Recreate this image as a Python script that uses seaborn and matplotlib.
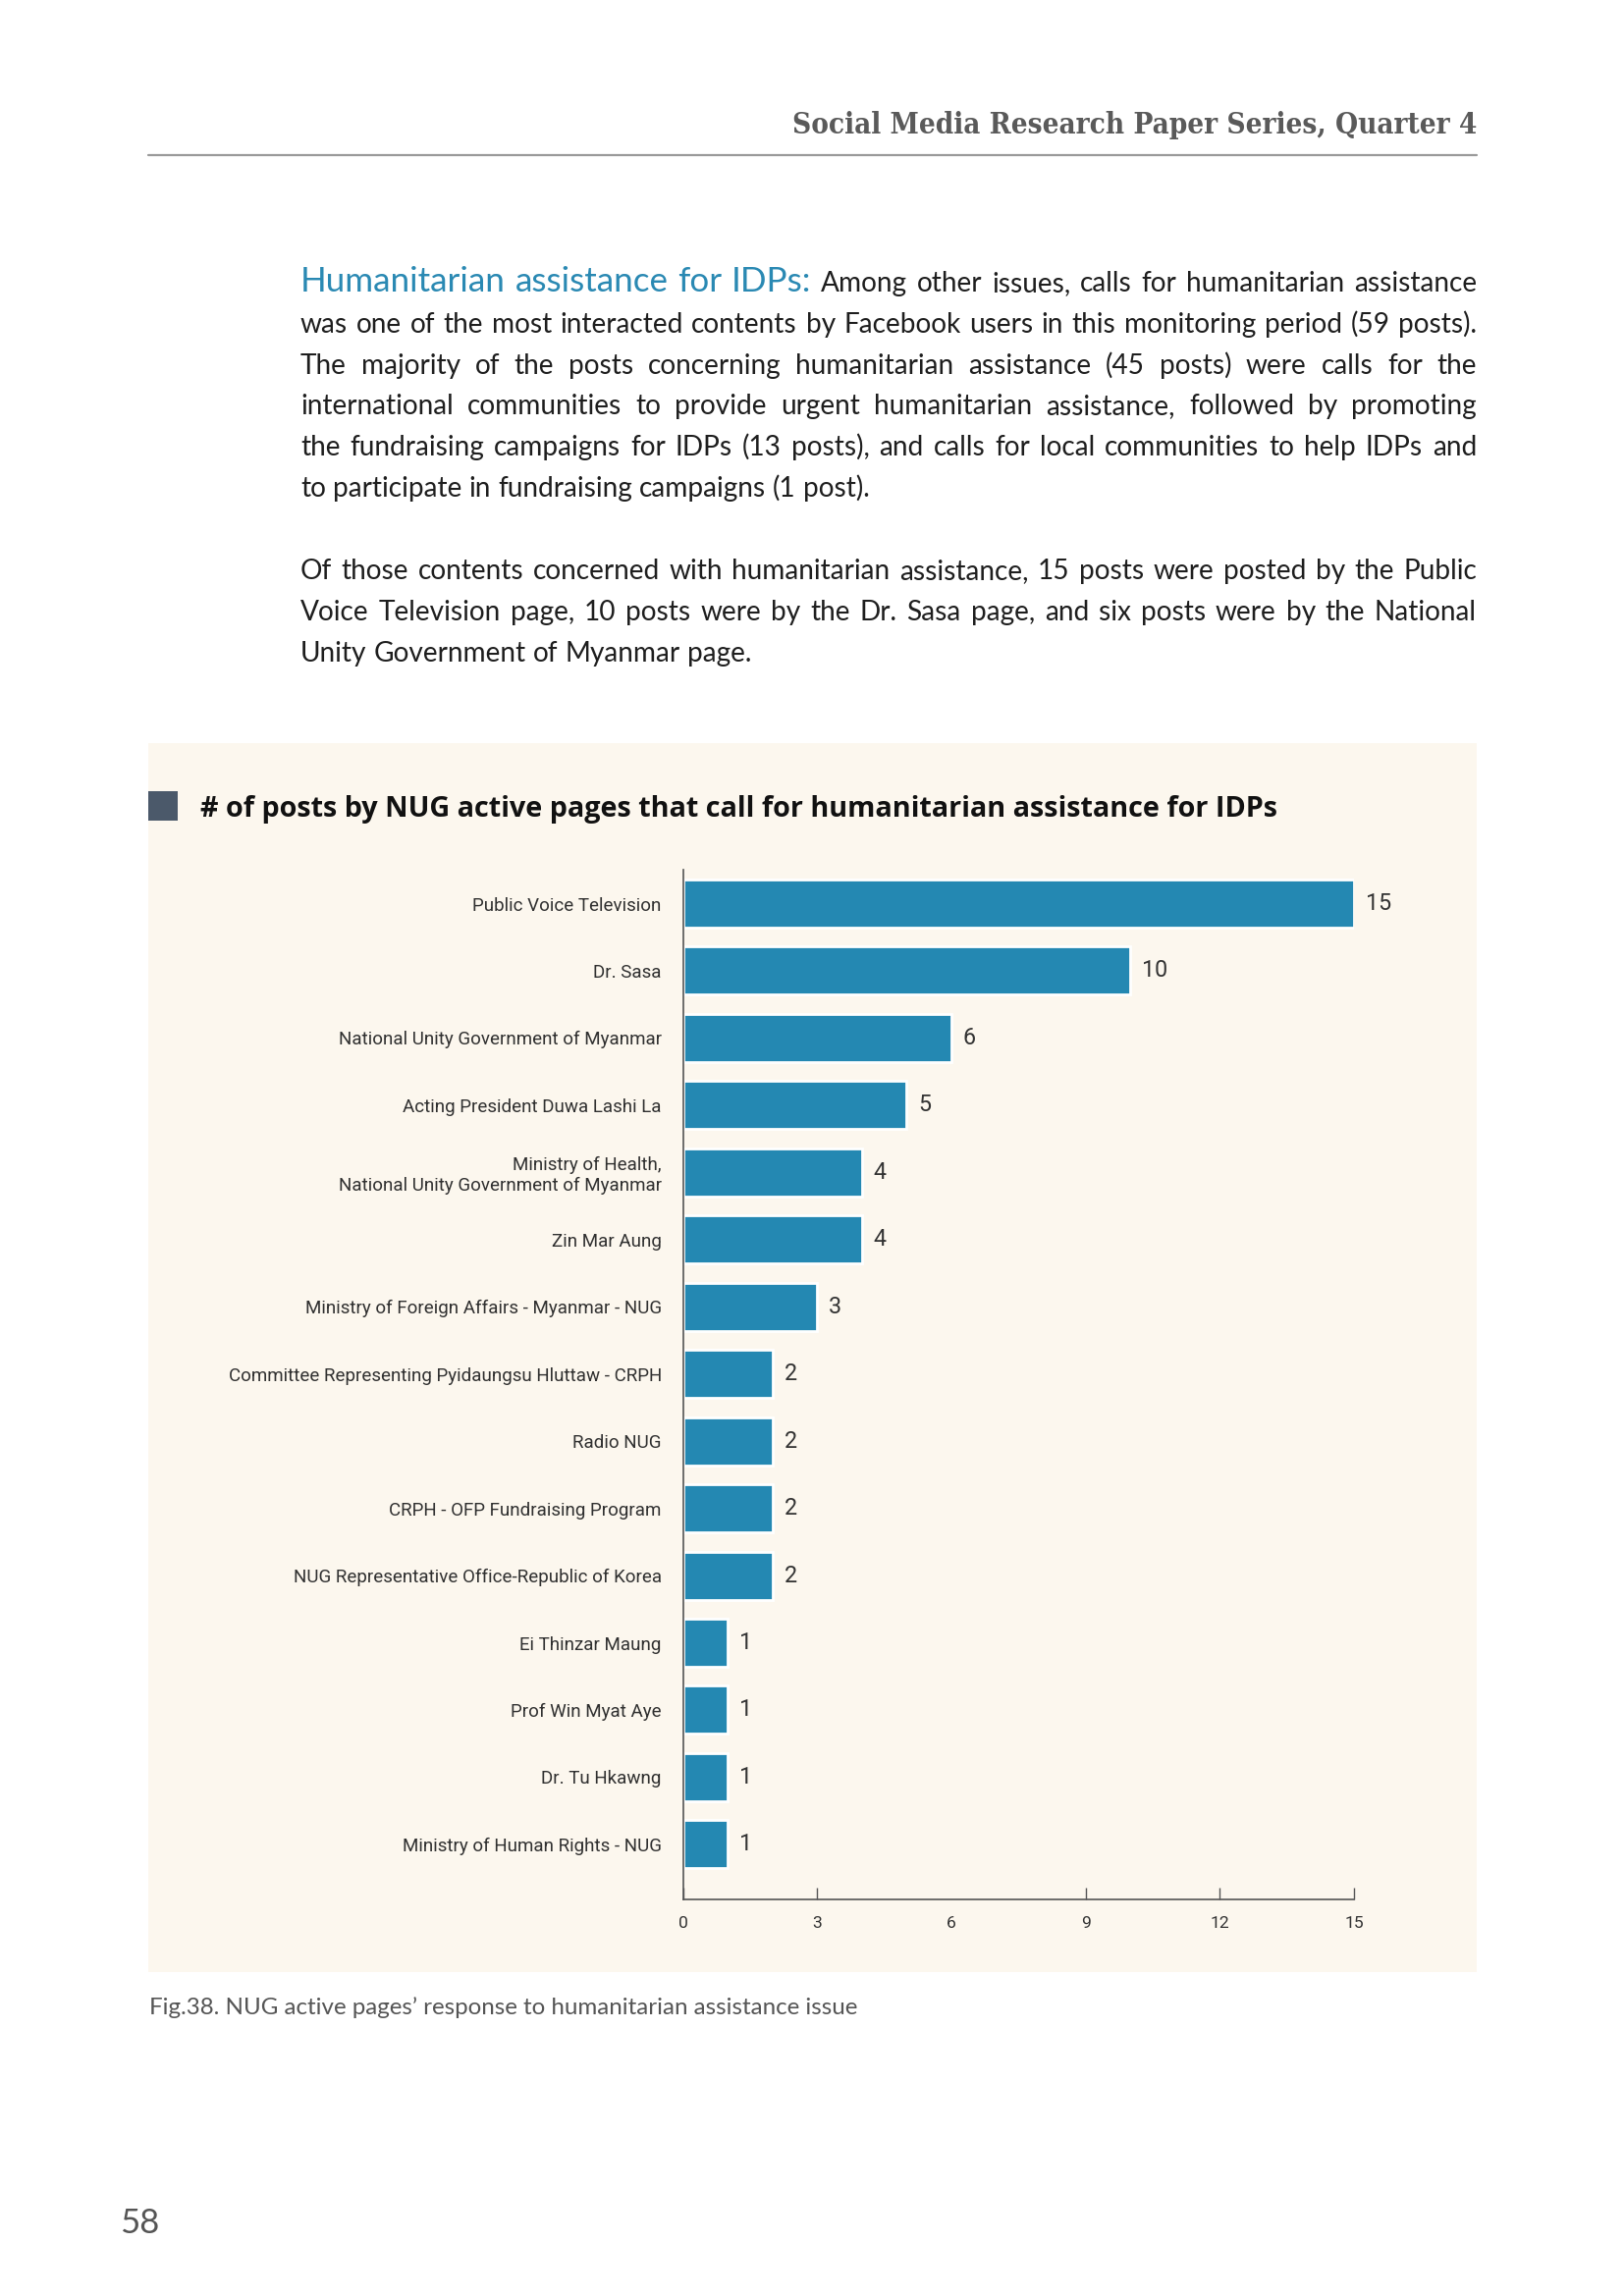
import matplotlib
matplotlib.use("Agg")
import matplotlib.pyplot as plt
import seaborn as sns
import pandas as pd
from matplotlib import font_manager
from matplotlib.patches import Rectangle
from matplotlib.lines import Line2D

# ---------------- data ----------------
pages = [
    "Public Voice Television",
    "Dr. Sasa",
    "National Unity Government of Myanmar",
    "Acting President Duwa Lashi La",
    "Ministry of Health,\nNational Unity Government of Myanmar",
    "Zin Mar Aung",
    "Ministry of Foreign Affairs - Myanmar - NUG",
    "Committee Representing Pyidaungsu Hluttaw - CRPH",
    "Radio NUG",
    "CRPH - OFP Fundraising Program",
    "NUG Representative Office-Republic of Korea",
    "Ei Thinzar Maung",
    "Prof Win Myat Aye",
    "Dr. Tu Hkawng",
    "Ministry of Human Rights - NUG",
]
posts = [15, 10, 6, 5, 4, 4, 3, 2, 2, 2, 2, 1, 1, 1, 1]
x_ticks = [0, 3, 6, 9, 12, 15]

header_text = "Social Media Research Paper Series, Quarter 4"
lead_text = "Humanitarian assistance for IDPs:"
para1_lines = [
    "Among other issues, calls for humanitarian assistance",
    "was one of the most interacted contents by Facebook users in this monitoring period (59 posts).",
    "The majority of the posts concerning humanitarian assistance (45 posts) were calls for the",
    "international communities to provide urgent humanitarian assistance, followed by promoting",
    "the fundraising campaigns for IDPs (13 posts), and calls for local communities to help IDPs and",
    "to participate in fundraising campaigns (1 post).",
]
para2_lines = [
    "Of those contents concerned with humanitarian assistance, 15 posts were posted by the Public",
    "Voice Television page, 10 posts were by the Dr. Sasa page, and six posts were by the National",
    "Unity Government of Myanmar page.",
]
chart_title = "# of posts by NUG active pages that call for humanitarian assistance for IDPs"
caption = "Fig.38. NUG active pages\u2019 response to humanitarian assistance issue"
page_no = "58"

# ---------------- style ----------------
BAR = "#2488b2"
CREAM = "#fcf7ee"
BLUE_TXT = "#2a89b3"

sns.set_theme(style="white")
avail = {f.name for f in font_manager.fontManager.ttflist}


def pick(*names):
    for n in names:
        if n in avail:
            return n
    return "DejaVu Sans"


BODY = pick("Lato", "Open Sans", "Noto Sans")
TITLE = pick("Open Sans", "Noto Sans", "Lato")
LABEL = pick("Roboto", "Liberation Sans", "Noto Sans")
SERIF = pick("DejaVu Serif", "Liberation Serif")
plt.rcParams["font.family"] = [BODY, "DejaVu Sans"]

W, H, DPI = 1654, 2339, 200
fig = plt.figure(figsize=(W / DPI, H / DPI), dpi=DPI)
fig.patch.set_facecolor("white")
renderer = fig.canvas.get_renderer()


def fx(px):
    return px / W


def fy(py):
    return 1 - py / H


def measure(s, **kw):
    t = fig.text(0, 0, s, **kw)
    w = t.get_window_extent(renderer).width
    t.remove()
    return w


def fit(s, width, size, **kw):
    return size * width / measure(s, fontsize=size, **kw)


# ---------------- header ----------------
hsize = fit(header_text, 694, 11, family=SERIF, weight="bold", stretch="condensed")
fig.text(fx(1504), fy(136), header_text, ha="right", va="baseline",
         fontsize=hsize, family=SERIF, weight="bold", stretch="condensed", color="#5a5a5a")
fig.add_artist(Line2D([fx(151), fx(1504)], [fy(158), fy(158)], color="#9a9a9a", lw=0.8,
                      transform=fig.transFigure))

# ---------------- body paragraphs (justified) ----------------
X0, X1 = 306, 1504
body_props = dict(family=BODY, color="#1e1e1e")
lead_props = dict(family=BODY, color=BLUE_TXT)

worst = 0
for ln in para1_lines[1:] + para2_lines[:-1]:
    worst = max(worst, measure(ln, fontsize=10, **body_props))
body_size = 10 * (X1 - X0) * 0.985 / worst
lead_size = fit(lead_text, 516, 11, **lead_props)
space_w = measure("n n", fontsize=body_size, **body_props) - measure("nn", fontsize=body_size, **body_props)
rest = measure(para1_lines[0], fontsize=body_size, **body_props)
if 516 + space_w + rest > (X1 - X0) * 0.99:
    lead_size *= ((X1 - X0) * 0.99 - space_w - rest) / 516


def draw_line(words, y, justify):
    widths = [measure(wd, fontsize=sz, **pr) for wd, sz, pr in words]
    if justify and len(words) > 1:
        gap = (X1 - X0 - sum(widths)) / (len(words) - 1)
    else:
        gap = space_w
    x = X0
    for (wd, sz, pr), wdt in zip(words, widths):
        fig.text(fx(x), fy(y), wd, ha="left", va="baseline", fontsize=sz, **pr)
        x += wdt + gap


LS = 41.8
first = [(w, lead_size, lead_props) for w in lead_text.split()] + \
        [(w, body_size, body_props) for w in para1_lines[0].split()]
draw_line(first, 297, True)
for i, ln in enumerate(para1_lines[1:], start=1):
    draw_line([(w, body_size, body_props) for w in ln.split()], 297 + LS * i, i < len(para1_lines) - 1)
for i, ln in enumerate(para2_lines):
    draw_line([(w, body_size, body_props) for w in ln.split()], 590 + LS * i, i < len(para2_lines) - 1)

# ---------------- chart panel ----------------
fig.patches.append(Rectangle((fx(151), fy(2009)), (1504 - 151) / W, (2009 - 757) / H,
                             transform=fig.transFigure, facecolor=CREAM, edgecolor="none", zorder=-10))
fig.patches.append(Rectangle((fx(151), fy(836)), 30 / W, 30 / H, transform=fig.transFigure,
                             facecolor="#4b596a", edgecolor="none", zorder=-5))
tsize = fit(chart_title, 1100, 11.5, family=TITLE, weight="bold")
fig.text(fx(204), fy(832), chart_title, ha="left", va="baseline", fontsize=tsize,
         family=TITLE, weight="bold", color="#111111")

ax_left, ax_right, ax_top, ax_bot = 695.7, 1379, 886, 1935
ax = fig.add_axes([fx(ax_left), fy(ax_bot), (ax_right - ax_left) / W, (ax_bot - ax_top) / H])
ax.set_facecolor("none")
ax.set_zorder(5)

df = pd.DataFrame({"page": pages, "posts": posts})
sns.barplot(data=df, x="posts", y="page", orient="h", color=BAR, saturation=1,
            width=0.716, errorbar=None, ax=ax)
ax.set_xlim(0, 15)
ax.set_ylim(14.82, -0.504)
ax.set_xticks(x_ticks)
ax.set_xticklabels([str(t) for t in x_ticks])
ax.set_xlabel("")
ax.set_ylabel("")
for s in ["top", "right"]:
    ax.spines[s].set_visible(False)
for s in ["left", "bottom"]:
    ax.spines[s].set_color("#555555")
    ax.spines[s].set_linewidth(0.6)

ax.tick_params(axis="y", length=0, pad=7.9, labelsize=6.75, labelcolor="#303030")
ax.tick_params(axis="x", direction="in", length=4.3, width=0.5, color="#555555",
               pad=6.0, labelsize=6.3, labelcolor="#333333", bottom=True)
for lab in ax.get_yticklabels():
    lab.set_family([LABEL, "DejaVu Sans"])
    lab.set_fontweight("normal")
for lab in ax.get_xticklabels():
    lab.set_family([LABEL, "DejaVu Sans"])
    lab.set_fontweight("normal")
ax.xaxis.get_major_ticks()[2].tick1line.set_visible(False)

labels = ax.bar_label(ax.containers[0], padding=4.3, fontsize=8.4, color="#333333")
for t in labels:
    t.set_family([LABEL, "DejaVu Sans"])
    t.set_fontweight("normal")

# ---------------- caption & page number ----------------
csize = fit(caption, 720, 9, family=BODY)
fig.text(fx(152), fy(2052), caption, ha="left", va="baseline", fontsize=csize,
         family=BODY, color="#555555")
fig.text(fx(122), fy(2275), page_no, ha="left", va="baseline", fontsize=12.5,
         family=BODY, color="#555555")

fig.savefig("out.png", dpi=DPI, facecolor="white")
